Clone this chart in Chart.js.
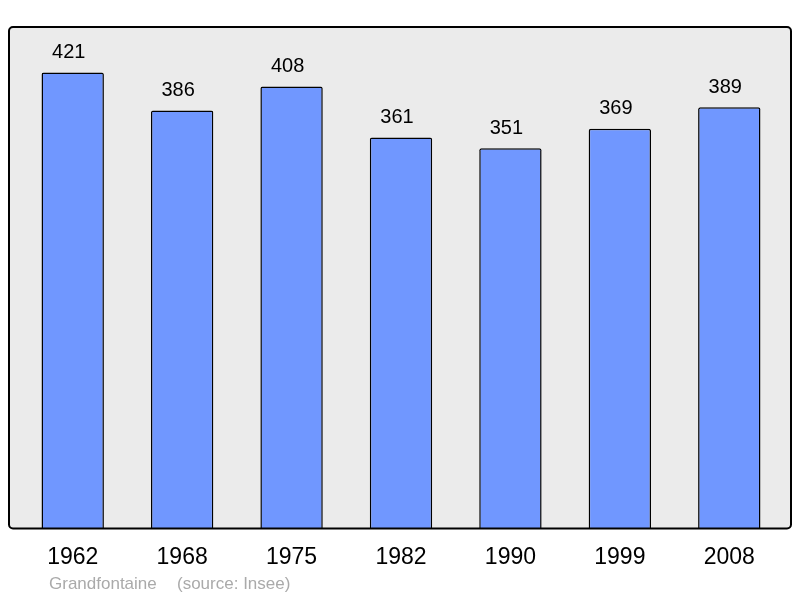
<!DOCTYPE html>
<html>
<head>
<meta charset="utf-8">
<script src="https://cdn.jsdelivr.net/npm/chart.js@4"></script>
<style>
  html, body { margin: 0; padding: 0; background: #fff; }
  #wrap { width: 800px; height: 598px; }
</style>
</head>
<body>
<div id="wrap"><canvas id="chart" width="800" height="598"></canvas></div>
<script>
const years = ["1962", "1968", "1975", "1982", "1990", "1999", "2008"];
const population = [421, 386, 408, 361, 351, 369, 389];
const placeName = "Grandfontaine";
const sourceText = "(source: Insee)";

// grey frame behind the bars, a bit wider than the category area
const framePlugin = {
  id: "frame",
  beforeDraw: function (chart) {
    var ctx = chart.ctx;
    var a = chart.chartArea;
    var x = a.left - 9, y = a.top, w = a.right - a.left + 16, h = a.bottom - a.top;
    ctx.save();
    ctx.beginPath();
    ctx.roundRect(x, y, w, h, 4);
    ctx.fillStyle = "#ebebeb";
    ctx.fill();
    ctx.restore();
  },
  afterDatasetsDraw: function (chart) {
    var ctx = chart.ctx;
    var a = chart.chartArea;
    var x = a.left - 9, y = a.top, w = a.right - a.left + 16, h = a.bottom - a.top;
    ctx.save();
    ctx.beginPath();
    ctx.roundRect(x, y, w, h, 4);
    ctx.lineWidth = 2;
    ctx.strokeStyle = "#000";
    ctx.stroke();

    // values above bars (sit a little left of centre, like the original)
    var meta = chart.getDatasetMeta(0);
    ctx.fillStyle = "#000";
    ctx.font = "20px 'Liberation Sans', Arial, sans-serif";
    ctx.textAlign = "center";
    ctx.textBaseline = "middle";
    meta.data.forEach(function (bar, i) {
      ctx.fillText(String(population[i]), bar.x - 4, bar.y - 20);
    });

    // footer
    ctx.fillStyle = "#aaaaaa";
    ctx.font = "17px 'Liberation Sans', Arial, sans-serif";
    ctx.textAlign = "left";
    ctx.fillText(placeName, 49, 584);
    ctx.fillText(sourceText, 177, 584);
    ctx.restore();
  }
};

var ctx = document.getElementById("chart").getContext("2d");
var myChart = new Chart(ctx, {
  type: "bar",
  data: {
    labels: years,
    datasets: [
      {
        data: population,
        backgroundColor: "#7097ff",
        borderColor: "#000",
        borderWidth: 1.5,
        borderRadius: 2,
        borderSkipped: "bottom",
        barPercentage: 0.57,
        categoryPercentage: 1,
      },
    ],
  },
  options: {
    responsive: false,
    animation: false,
    layout: {
      padding: { left: 18, right: 16, top: 27, bottom: 20 },
    },
    plugins: {
      legend: { display: false },
      tooltip: { enabled: false },
    },
    scales: {
      y: {
        display: false,
        min: 0,
        max: 463,
      },
      x: {
        grid: { display: false },
        border: { display: false },
        ticks: {
          color: "#000",
          padding: 7,
          font: { size: 23, family: "'Liberation Sans', Arial, sans-serif" },
          maxRotation: 0,
        },
      },
    },
  },
  plugins: [framePlugin],
});
</script>
</body>
</html>
